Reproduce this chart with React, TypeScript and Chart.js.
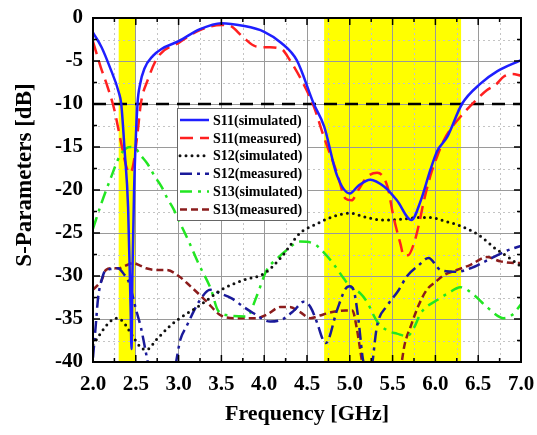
import { useEffect, useRef } from 'react';
import { Chart, registerables } from 'chart.js';
Chart.register(...registerables);

// ---- data (frequency in GHz, value in dB) ----
const S11_SIM_F = [2.0, 2.1, 2.2, 2.3, 2.33, 2.37, 2.41, 2.44, 2.45, 2.46, 2.48, 2.52, 2.55, 2.6, 2.7, 2.8, 3.0, 3.25, 3.5, 3.75, 4.0, 4.2, 4.38, 4.58, 4.7, 4.85, 5.0, 5.1, 5.24, 5.4, 5.55, 5.72, 5.83, 5.94, 6.02, 6.14, 6.31, 6.53, 6.72, 7.0];
const S11_SIM_DB = [-1.7, -3.4, -5.8, -8.6, -10, -15.5, -22, -34, -38.5, -30, -20, -10, -7.7, -5.9, -4.4, -3.6, -2.7, -1.3, -0.6, -0.9, -1.6, -2.9, -4.9, -10, -12.6, -18.3, -20.4, -19.5, -18.8, -19.6, -21.2, -23.5, -21.2, -17.7, -15.5, -13.8, -10, -7.6, -6.2, -4.9];

const S11_MEAS_F = [2.0, 2.09, 2.17, 2.25, 2.33, 2.39, 2.42, 2.45, 2.48, 2.52, 2.56, 2.64, 2.76, 3.0, 3.25, 3.5, 3.6, 3.75, 3.9, 4.05, 4.2, 4.3, 4.45, 4.58, 4.7, 4.85, 4.95, 5.02, 5.1, 5.2, 5.32, 5.44, 5.51, 5.59, 5.63, 5.68, 5.75, 5.81, 5.86, 5.94, 6.02, 6.1, 6.2, 6.3, 6.4, 6.5, 6.6, 6.7, 6.8, 6.9, 7.0];
const S11_MEAS_DB = [-2.75, -5.7, -8, -10.7, -14.6, -17.3, -18, -17.8, -16.5, -13.4, -9.9, -7.2, -4.5, -2.9, -1.4, -0.8, -0.9, -2.2, -3.3, -3.4, -3.6, -4.9, -7.5, -10.3, -13.9, -18, -21, -21.2, -20, -18.5, -18, -19.6, -23.1, -26.2, -27.6, -27.6, -26.2, -23.9, -21.5, -18.4, -16.1, -14.2, -12.6, -11.4, -10.3, -9.3, -8.4, -7.8, -6.8, -6.5, -6.7];

const S12_SIM_F = [2.0, 2.1, 2.2, 2.28, 2.35, 2.47, 2.55, 2.62, 2.75, 2.9, 3.0, 3.25, 3.5, 3.75, 4.0, 4.2, 4.42, 4.58, 4.8, 5.0, 5.2, 5.4, 5.6, 5.8, 5.95, 6.1, 6.3, 6.5, 6.7, 6.85, 7.0];
const S12_SIM_DB = [-38, -36.5, -35.3, -34.9, -35.3, -37.1, -38.2, -38.6, -37.3, -35.8, -35, -33.4, -31.6, -30.5, -29.7, -27.8, -25, -24.1, -23.1, -22.7, -23.2, -23.5, -23.4, -23.2, -23.2, -23.6, -24.2, -25.2, -26.8, -27.8, -28.9];

const S12_MEAS_F = [2.0, 2.03, 2.06, 2.1, 2.15, 2.2, 2.29, 2.37, 2.41, 2.45, 2.5, 2.56, 2.62, 2.68, 2.8, 2.95, 3.02, 3.09, 3.25, 3.37, 3.48, 3.62, 3.76, 3.87, 4.07, 4.22, 4.35, 4.46, 4.54, 4.62, 4.69, 4.72, 4.85, 4.95, 5.0, 5.05, 5.1, 5.16, 5.24, 5.32, 5.44, 5.56, 5.67, 5.8, 5.92, 6.06, 6.25, 6.41, 6.56, 6.72, 6.85, 7.0];
const S12_MEAS_DB = [-39.5, -36, -32.5, -30.5, -29.3, -29.2, -29.1, -29.9, -30.5, -31.8, -33.8, -36, -39, -42, -44, -41, -37.4, -35.9, -32.8, -31.6, -32, -32.6, -33.6, -34.3, -35.3, -35, -34, -33, -33.6, -35.5, -37.5, -37.8, -34, -31.5, -31.2, -31.8, -35, -40, -41, -35.7, -33.4, -31.8, -30, -28.8, -27.9, -29.3, -29.5, -29.1, -28.4, -27.6, -27, -26.5];

const S13_SIM_F = [2.0, 2.1, 2.2, 2.31, 2.38, 2.44, 2.5, 2.56, 2.64, 2.72, 2.8, 2.87, 2.94, 3.02, 3.12, 3.23, 3.38, 3.46, 3.6, 3.8, 3.91, 4.03, 4.15, 4.26, 4.42, 4.57, 4.7, 4.81, 4.93, 5.0, 5.12, 5.2, 5.32, 5.45, 5.55, 5.67, 5.75, 5.83, 6.02, 6.15, 6.29, 6.45, 6.6, 6.8, 6.9, 7.0];
const S13_SIM_DB = [-24.5, -21.5, -18.8, -16.1, -15.2, -15, -15.2, -16, -17, -18.4, -19.6, -21, -22.2, -23.9, -26, -28.5, -31.6, -34, -34.6, -34.7, -32.4, -29.3, -28, -27, -26, -26.2, -27.3, -28.6, -30.3, -31.2, -32, -33, -35.3, -36.4, -36.7, -37, -36, -34.3, -32.8, -32, -31.3, -32.2, -33.6, -34.9, -34.5, -33.3];

const S13_MEAS_F = [2.0, 2.1, 2.15, 2.23, 2.3, 2.38, 2.47, 2.55, 2.62, 2.75, 2.86, 3.0, 3.15, 3.33, 3.48, 3.65, 3.8, 3.91, 4.03, 4.19, 4.3, 4.42, 4.54, 4.65, 4.75, 4.85, 4.95, 5.03, 5.08, 5.12, 5.16, 5.3, 5.45, 5.59, 5.64, 5.71, 5.8, 5.9, 6.0, 6.1, 6.25, 6.41, 6.6, 6.76, 6.96, 7.0];
const S13_MEAS_DB = [-31.6, -30.5, -29.3, -29.1, -29.1, -28.8, -28.5, -28.8, -29.1, -29.3, -29.3, -30, -31.3, -33, -34.5, -34.9, -34.9, -34.9, -34.5, -33.6, -33.6, -34.2, -34.9, -34.6, -34.3, -34.1, -34, -34, -36, -38.5, -41, -46, -46, -41, -38, -35.9, -33.5, -31.6, -30.7, -29.9, -29.3, -28.7, -27.8, -28.3, -28.5, -28.5];

const REF_F = [2.0, 7.0];
const REF_DB = [-10, -10];

const BANDS: number[][] = [[2.3, 2.5], [4.7, 6.3]];
const LABELS = ['S11(simulated)', 'S11(measured)', 'S12(simulated)', 'S12(measured)', 'S13(simulated)', 'S13(measured)'];
const X_TITLE = 'Frequency [GHz]';
const Y_TITLE = 'S-Parameters [dB]';

const X_MIN = 2, X_MAX = 7, X_MAJOR = 0.5, X_MINOR = 0.25;
const Y_MIN = -40, Y_MAX = 0, Y_MAJOR = 5, Y_MINOR = 2.5;

function pts(f: number[], v: number[]) {
  return f.map((x, i) => ({ x, y: v[i] }));
}

const FONT = "'Liberation Serif', 'Times New Roman', serif";

export default function App() {
  const ref = useRef<HTMLCanvasElement>(null);
  useEffect(() => {
    const canvas = ref.current!;
    const bgPlugin = {
      id: 'bg',
      beforeDraw(chart: any) {
        const { ctx, chartArea: a, scales } = chart;
        const xs = scales.x, ys = scales.y;
        ctx.save();
        ctx.fillStyle = '#ffff00';
        BANDS.forEach(([b0, b1]) => {
          const x0 = xs.getPixelForValue(b0), x1 = xs.getPixelForValue(b1);
          ctx.fillRect(x0, a.top, x1 - x0, a.bottom - a.top);
        });
        ctx.strokeStyle = '#c4c4c4';
        ctx.lineWidth = 1;
        ctx.setLineDash([2, 3]);
        for (let v = X_MIN + X_MINOR; v < X_MAX; v += X_MAJOR) {
          const px = Math.round(xs.getPixelForValue(v)) + 0.5;
          ctx.beginPath(); ctx.moveTo(px, a.top); ctx.lineTo(px, a.bottom); ctx.stroke();
        }
        for (let v = Y_MIN + Y_MINOR; v < Y_MAX; v += Y_MAJOR) {
          const py = Math.round(ys.getPixelForValue(v)) + 0.5;
          ctx.beginPath(); ctx.moveTo(a.left, py); ctx.lineTo(a.right, py); ctx.stroke();
        }
        ctx.restore();
      },
    };
    const topPlugin = {
      id: 'top',
      afterDatasetsDraw(chart: any) {
        const { ctx, chartArea: a, scales } = chart;
        const xs = scales.x, ys = scales.y;
        ctx.save();
        // frame
        ctx.strokeStyle = '#000';
        ctx.lineWidth = 2;
        ctx.setLineDash([]);
        ctx.strokeRect(a.left, a.top, a.right - a.left, a.bottom - a.top);
        // inward ticks
        ctx.lineWidth = 1.5;
        for (let v = X_MIN; v <= X_MAX + 1e-9; v += X_MINOR) {
          const major = Math.abs(v / X_MAJOR - Math.round(v / X_MAJOR)) < 1e-6;
          const len = major ? 7 : 4;
          const px = xs.getPixelForValue(v);
          ctx.beginPath();
          ctx.moveTo(px, a.bottom); ctx.lineTo(px, a.bottom - len);
          ctx.moveTo(px, a.top); ctx.lineTo(px, a.top + len);
          ctx.stroke();
        }
        for (let v = Y_MIN; v <= Y_MAX + 1e-9; v += Y_MINOR) {
          const major = Math.abs(v / Y_MAJOR - Math.round(v / Y_MAJOR)) < 1e-6;
          const len = major ? 7 : 4;
          const py = ys.getPixelForValue(v);
          ctx.beginPath();
          ctx.moveTo(a.left, py); ctx.lineTo(a.left + len, py);
          ctx.moveTo(a.right, py); ctx.lineTo(a.right - len, py);
          ctx.stroke();
        }
        // legend
        const lx = a.left + 84, ly = a.top + 90, lw = 130, lh = 112;
        ctx.fillStyle = '#fff';
        ctx.fillRect(lx, ly, lw, lh);
        ctx.strokeStyle = '#666';
        ctx.lineWidth = 1;
        ctx.strokeRect(lx + 0.5, ly + 0.5, lw, lh);
        const dsets = chart.data.datasets.filter((d: any) => LABELS.includes(d.label));
        ctx.font = `bold 14px ${FONT}`;
        ctx.textBaseline = 'middle';
        ctx.textAlign = 'left';
        dsets.forEach((d: any, i: number) => {
          const y = ly + 12 + i * 17.9;
          ctx.save();
          ctx.strokeStyle = d.borderColor;
          ctx.lineWidth = d.borderWidth;
          ctx.lineCap = d.borderCapStyle || 'butt';
          ctx.setLineDash(d.borderDash || []);
          ctx.beginPath(); ctx.moveTo(lx + 3, y); ctx.lineTo(lx + 32, y); ctx.stroke();
          ctx.restore();
          ctx.fillStyle = '#000';
          ctx.fillText(d.label, lx + 36, y + 1);
        });
        // axis titles
        ctx.fillStyle = '#000';
        ctx.font = `bold 22px ${FONT}`;
        ctx.textAlign = 'center';
        ctx.textBaseline = 'middle';
        ctx.fillText(X_TITLE, (a.left + a.right) / 2, 414);
        ctx.save();
        ctx.translate(25, 175);
        ctx.rotate(-Math.PI / 2);
        ctx.font = `bold 23px ${FONT}`;
        ctx.fillText(Y_TITLE, 0, 0);
        ctx.restore();
        ctx.restore();
      },
    };

    const common = { pointRadius: 0, fill: false, cubicInterpolationMode: 'monotone' as const };
    const chart = new Chart(canvas, {
      type: 'line',
      data: {
        datasets: [
          { ...common, label: LABELS[0], data: pts(S11_SIM_F, S11_SIM_DB), borderColor: '#1f1fff', borderWidth: 2.5, borderDash: [] },
          { ...common, label: LABELS[1], data: pts(S11_MEAS_F, S11_MEAS_DB), borderColor: '#ff2020', borderWidth: 2.5, borderDash: [13, 7] },
          { ...common, label: LABELS[2], data: pts(S12_SIM_F, S12_SIM_DB), borderColor: '#111111', borderWidth: 3, borderDash: [0, 6], borderCapStyle: 'round' },
          { ...common, label: LABELS[3], data: pts(S12_MEAS_F, S12_MEAS_DB), borderColor: '#1a1a9a', borderWidth: 2.5, borderDash: [12, 5, 3, 5] },
          { ...common, label: LABELS[4], data: pts(S13_SIM_F, S13_SIM_DB), borderColor: '#22e622', borderWidth: 2.5, borderDash: [12, 6, 3, 6] },
          { ...common, label: LABELS[5], data: pts(S13_MEAS_F, S13_MEAS_DB), borderColor: '#8b1c1c', borderWidth: 2.5, borderDash: [7, 4] },
          { ...common, label: '-10 dB', data: pts(REF_F, REF_DB), borderColor: '#000', borderWidth: 2.5, borderDash: [13, 8] },
        ] as any,
      },
      options: {
        responsive: false,
        animation: false,
        events: [],
        layout: { padding: { top: 18, right: 16, left: 0, bottom: 0 } },
        plugins: { legend: { display: false }, title: { display: false }, tooltip: { enabled: false } },
        scales: {
          x: {
            type: 'linear', min: X_MIN, max: X_MAX,
            afterFit: (s: any) => { s.height = 73; s.paddingLeft = 0; s.paddingRight = 0; },
            ticks: { stepSize: X_MAJOR, padding: 10, color: '#000', font: { family: FONT, size: 21, weight: 'bold' }, callback: (v: any) => Number(v).toFixed(1), maxRotation: 0, autoSkip: false },
            grid: { color: '#9a9a9a', lineWidth: 1, drawTicks: false },
            border: { display: false },
          },
          y: {
            type: 'linear', min: Y_MIN, max: Y_MAX,
            afterFit: (s: any) => { s.width = 93; s.paddingTop = 0; s.paddingBottom = 0; },
            ticks: { stepSize: Y_MAJOR, padding: 10, color: '#000', font: { family: FONT, size: 21, weight: 'bold' }, autoSkip: false },
            grid: { color: '#9a9a9a', lineWidth: 1, drawTicks: false },
            border: { display: false },
          },
        },
      } as any,
      plugins: [bgPlugin, topPlugin],
    });
    return () => chart.destroy();
  }, []);
  return (
    <div style={{ position: 'fixed', left: 0, top: 0, width: 537, height: 435, background: '#fff' }}>
      <canvas ref={ref} width={537} height={435} style={{ display: 'block' }} />
    </div>
  );
}
